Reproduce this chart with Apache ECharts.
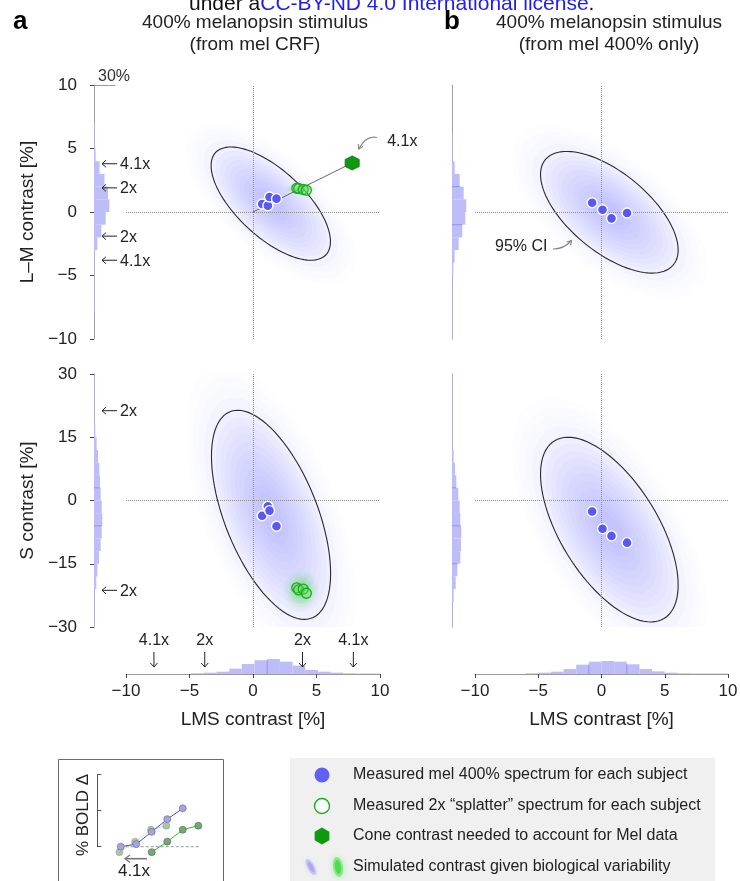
<!DOCTYPE html>
<html><head><meta charset="utf-8">
<script src="https://cdn.jsdelivr.net/npm/echarts@6/dist/echarts.min.js"></script>
<style>html,body{margin:0;padding:0;background:#fff}#c{width:740px;height:881px}</style>
</head><body><div id="c"></div>
<script>
const FONT = '"Liberation Sans", Arial, Helvetica, sans-serif';
const TXT = '#222';

// ---------- data ----------
// Measured mel 400% spectrum for each subject
const measA_lms = [0.72, 1.17, 1.30, 1.85];
const measA_lm  = [0.63, 0.50, 1.18, 1.05];
const measA_s   = [-3.6, -1.4, -2.4, -6.1];
const measB_lms = [-0.74, 0.08, 0.79, 2.02];
const measB_lm  = [0.73, 0.18, -0.50, -0.08];
const measB_s   = [-2.6, -6.7, -8.4, -10.0];
// Measured 2x "splatter" spectrum
const splatA_lms = [3.45, 3.60, 3.95, 4.20];
const splatA_lm  = [1.87, 1.85, 1.77, 1.72];
const splatA_s   = [-20.7, -21.2, -21.0, -22.0];
// Cone contrast needed to account for Mel data (4.1x)
const coneNeeded = [7.81, 3.86];
// 95% CI ellipses: [center LMS, center Y, half-width, half-height, correlation]
const ciA_lm = [1.40, 0.66, 4.70, 4.46, -0.67];
const ciA_s  = [1.42, -3.40, 4.69, 24.8, -0.56];
const ciB_lm = [0.62, -0.02, 5.44, 4.79, -0.62];
const ciB_s  = [0.62, -6.90, 5.44, 21.9, -0.60];
// simulated splatter variability (green)
const splatSimA_lm = [3.8, 1.8, 0.75, 0.25, 0];
const splatSimA_s  = [3.8, -21.3, 0.85, 3.0, 0];
// marginal histograms (bin edges, percent per bin)
const lmHistA_edges = [7, 5, 4, 3, 2, 1, 0, -1, -2, -3, -8];
const lmHistA_pct   = [0.8, 2.4, 8, 15, 20, 22, 16.7, 10.5, 4.8, 0.8];
const sHistA_edges  = [30, 18, 15, 12, 9, 6, 3, 0, -3, -6, -9, -12, -15, -18, -21, -30];
const sHistA_pct    = [0.8, 1.9, 3.8, 5.7, 7.6, 8.6, 9.5, 11, 11.9, 11, 9.5, 7.1, 4.8, 3.3, 0.8];
const lmsHistA_edges = [-4.88, -3.88, -2.88, -1.88, -0.88, 0.12, 1.12, 2.12, 3.12, 4.12, 5.12, 6.12, 7.12, 8.12, 10];
const lmsHistA_pct   = [1, 1.9, 3.3, 7.6, 14.3, 19.6, 21.4, 17.6, 11.9, 5.7, 3.3, 1.9, 1, 0.7];
const lmHistB_edges = [6.2, 4, 3, 2, 1, 0, -1, -2, -3, -4, -5, -10];
const lmHistB_pct   = [0.8, 3.8, 11, 16.7, 20.4, 19, 14.7, 9.5, 3.8, 1.9, 0.8];
const sHistB_edges  = [30, 12, 9, 6, 3, 0, -3, -6, -9, -12, -15, -18, -21, -24, -30];
const sHistB_pct    = [0.8, 2.4, 4.3, 6.2, 9, 11, 11.9, 13.3, 12.9, 11.9, 7.6, 5.3, 2.4, 0.8];
const lmsHistB_edges = [-6, -5, -4, -3, -2, -1, 0, 1, 2, 3, 4, 5, 6, 7, 10];
const lmsHistB_pct   = [1, 1.9, 3.3, 7.1, 13.3, 17.6, 18.6, 17.6, 13.9, 7.1, 3.8, 1.9, 1, 0.6];
// darker reference lines inside histograms
const sHistA_lines   = [3, -6];
const lmsHistA_lines = [1.12];
const lmHistB_lines  = [2, -1];
const sHistB_lines   = [3, -6, -15];
const lmsHistB_lines = [-1, 2];
// splatter multiples marked along the marginal axes
const lmMarks = [3.8, 1.9, -1.9, -3.8];
const lmMarkLabels = ['4.1x', '2x', '2x', '4.1x'];
const sMarks = [21.3, -21.3];
const sMarkLabels = ['2x', '2x'];
const lmsMarks = [-7.8, -3.8, 3.9, 7.9];
const lmsMarkLabels = ['4.1x', '2x', '2x', '4.1x'];
// axis ticks
const lmTicks = [-10, -5, 0, 5, 10];
const sTicks = [-30, -15, 0, 15, 30];
// inset: schematic BOLD response
const insetMelX = [0, 1, 2, 3, 4];
const insetMel  = [0, 0.07, 0.41, 0.76, 1.06];
const insetSplatX = [-0.08, 0.93, 1.95, 2.94];
const insetSplat  = [-0.15, 0.14, 0.47, 0.58];
const insetShiftedX = [2, 3, 4, 5];
// legend
const legendLabels = [
  'Measured mel 400% spectrum for each subject',
  'Measured 2x \u201csplatter\u201d spectrum for each subject',
  'Cone contrast needed to account for Mel data',
  'Simulated contrast given biological variability'
];

// ---------- helpers ----------
const minusFmt = v => String(v).replace('-', '\u2212');
const zip = (a, b) => a.map((v, i) => [v, b[i]]);

function ellipsePts(api, v, s) {
  const [cx, cy, a, b, r] = v; const q = Math.sqrt(1 - r * r); const pts = [];
  for (let i = 0; i <= 96; i++) {
    const t = i / 96 * 2 * Math.PI;
    pts.push(api.coord([cx + s * a * Math.cos(t), cy + s * b * (r * Math.cos(t) + q * Math.sin(t))]));
  }
  return pts;
}
function cloudSeries(gi, params, rgb, scales, alphas, outline) {
  return {
    type: 'custom', xAxisIndex: gi, yAxisIndex: gi, clip: true, silent: true, z: 1,
    data: [params],
    renderItem: (p, api) => {
      const v = [0, 1, 2, 3, 4].map(i => api.value(i));
      const ch = scales.map((s, k) => ({
        type: 'polygon', shape: { points: ellipsePts(api, v, s) },
        style: { fill: 'rgba(' + rgb + ',' + alphas[k] + ')' }
      }));
      if (outline) ch.push({ type: 'polyline', shape: { points: ellipsePts(api, v, 1) },
        style: { stroke: '#2b2b2b', lineWidth: 1.1, fill: null } });
      return { type: 'group', children: ch };
    }
  };
}
const blueScales = [1.42, 1.32, 1.22, 1.12, 1.02, 0.93, 0.85, 0.77, 0.69, 0.61, 0.53, 0.45, 0.37, 0.29, 0.21];
const blueAlphas = [0.01, 0.016, 0.022, 0.028, 0.033, 0.036, 0.037, 0.037, 0.037, 0.036, 0.035, 0.034, 0.032, 0.03, 0.03];
const greenScales = [1.6, 1.35, 1.1, 0.9, 0.7, 0.5, 0.32];
const greenAlphas = [0.06, 0.08, 0.1, 0.11, 0.12, 0.13, 0.14];

function histSeries(gi, edges, pct, vertical) {
  return {
    type: 'custom', xAxisIndex: gi, yAxisIndex: gi, silent: true, z: 3, clip: false,
    data: pct.map((v, i) => [edges[i], edges[i + 1], v]),
    renderItem: (p, api) => {
      const lo = api.value(0), hi = api.value(1), v = api.value(2);
      const a = vertical ? api.coord([0, lo]) : api.coord([lo, 0]);
      const b = vertical ? api.coord([v, hi]) : api.coord([hi, v]);
      return { type: 'rect', shape: { x: Math.min(a[0], b[0]), y: Math.min(a[1], b[1]),
        width: Math.abs(b[0] - a[0]), height: Math.abs(b[1] - a[1]) }, style: { fill: '#bdbdf8' } };
    }
  };
}
function adjMin(edges, pct, m) {
  let bi = 0; edges.forEach((e, i) => { if (Math.abs(e - m) < Math.abs(edges[bi] - m)) bi = i; });
  const c = []; if (bi - 1 >= 0) c.push(pct[bi - 1]); if (bi < pct.length) c.push(pct[bi]);
  return Math.min.apply(null, c);
}
function histLineSeries(gi, lines, edges, pct, vertical) {
  return {
    type: 'custom', xAxisIndex: gi, yAxisIndex: gi, silent: true, z: 4, clip: false,
    data: lines.map(m => [m, adjMin(edges, pct, m)]),
    renderItem: (p, api) => {
      const m = api.value(0), len = api.value(1);
      const a = vertical ? api.coord([0, m]) : api.coord([m, 0]);
      const b = vertical ? api.coord([len, m]) : api.coord([m, len]);
      return { type: 'line', shape: { x1: a[0], y1: a[1], x2: b[0], y2: b[1] },
        style: { stroke: '#9090ee', lineWidth: 1 } };
    }
  };
}
function headPts(tx, ty, dx, dy, len, spread) {
  const L = Math.hypot(dx, dy), bx = -dx / L, by = -dy / L;
  const c = Math.cos(spread), s = Math.sin(spread);
  return [[tx + len * (bx * c - by * s), ty + len * (bx * s + by * c)], [tx, ty],
          [tx + len * (bx * c + by * s), ty + len * (-bx * s + by * c)]];
}
function yArrowSeries(gi, vals, labels) {
  return {
    type: 'custom', xAxisIndex: gi, yAxisIndex: gi, silent: true, z: 6, clip: false,
    data: vals.map((v, i) => [0, v, i]),
    renderItem: (p, api) => {
      const c = api.coord([0, api.value(1)]); const x = c[0], y = c[1];
      return { type: 'group', children: [
        { type: 'line', shape: { x1: x + 23, y1: y, x2: x + 8, y2: y }, style: { stroke: '#222', lineWidth: 1 } },
        { type: 'polyline', shape: { points: [[x + 12, y - 3.5], [x + 8, y], [x + 12, y + 3.5]] }, style: { stroke: '#222', lineWidth: 1, fill: null } },
        { type: 'text', style: { x: x + 26, y: y + 1, text: labels[api.value(2)], font: '16px ' + FONT, fill: TXT, align: 'left', verticalAlign: 'middle' } }
      ] };
    }
  };
}
function xArrowSeries(gi, vals, labels) {
  return {
    type: 'custom', xAxisIndex: gi, yAxisIndex: gi, silent: true, z: 6, clip: false,
    data: vals.map((v, i) => [v, 0, i]),
    renderItem: (p, api) => {
      const c = api.coord([api.value(0), 0]); const x = c[0], y = c[1];
      return { type: 'group', children: [
        { type: 'line', shape: { x1: x, y1: y - 22, x2: x, y2: y - 7 }, style: { stroke: '#222', lineWidth: 1 } },
        { type: 'polyline', shape: { points: [[x - 3.5, y - 11], [x, y - 7], [x + 3.5, y - 11]] }, style: { stroke: '#222', lineWidth: 1, fill: null } },
        { type: 'text', style: { x: x, y: y - 33, text: labels[api.value(2)], font: '16px ' + FONT, fill: TXT, align: 'center', verticalAlign: 'middle' } }
      ] };
    }
  };
}
function zeroLines(gi) {
  return { type: 'scatter', xAxisIndex: gi, yAxisIndex: gi, data: [], silent: true, z: 2,
    markLine: { silent: true, symbol: 'none', label: { show: false },
      lineStyle: { type: 'dotted', color: '#8c8c8c', width: 1 },
      data: [{ xAxis: 0 }, { yAxis: 0 }] } };
}
function measSeries(gi, xs, ys) {
  return { type: 'scatter', xAxisIndex: gi, yAxisIndex: gi, silent: true, z: 8,
    data: zip(xs, ys), symbol: 'circle', symbolSize: 10,
    itemStyle: { color: '#5858f4', borderColor: '#fff', borderWidth: 1.4, opacity: 1 } };
}
function splatSeries(gi, xs, ys) {
  return { type: 'scatter', xAxisIndex: gi, yAxisIndex: gi, silent: true, z: 7,
    data: zip(xs, ys), symbol: 'circle', symbolSize: 10,
    itemStyle: { color: 'rgba(110,230,110,0.35)', borderColor: '#19ad19', borderWidth: 1.3, opacity: 1 } };
}

const HEX = 'path://M0,-10 L8.66,-5 L8.66,5 L0,10 L-8.66,5 L-8.66,-5 Z';
const hiddenVal = (gi, min, max) => ({ type: 'value', gridIndex: gi, min, max, show: false });
const lmsAxis = gi => ({
  type: 'value', gridIndex: gi, min: -10, max: 10, interval: 5, position: 'bottom',
  axisLine: { show: true, onZero: false, lineStyle: { color: '#9a9a9a' } },
  axisTick: { show: true, length: 4, lineStyle: { color: '#444' } },
  axisLabel: { fontSize: 17, fontFamily: FONT, color: TXT, margin: 9, formatter: minusFmt },
  splitLine: { show: false },
  name: 'LMS contrast [%]', nameLocation: 'middle', nameGap: 36,
  nameTextStyle: { fontSize: 19, fontFamily: FONT, color: TXT }
});
const labeledY = (gi, min, max, interval, name) => ({
  type: 'value', gridIndex: gi, min, max, interval, position: 'left',
  axisLine: { show: true, onZero: false, lineStyle: { color: '#a0a0a0' } },
  axisTick: { show: true, length: 4, lineStyle: { color: '#444' } },
  axisLabel: { fontSize: 17, fontFamily: FONT, color: TXT, margin: 17, formatter: minusFmt },
  splitLine: { show: false },
  name, nameLocation: 'middle', nameGap: 57,
  nameTextStyle: { fontSize: 19, fontFamily: FONT, color: TXT }
});
const bareY = (gi, min, max) => ({
  type: 'value', gridIndex: gi, min, max, position: 'left',
  axisLine: { show: true, onZero: false, lineStyle: { color: '#a0a0a0' } },
  axisTick: { show: false }, axisLabel: { show: false }, splitLine: { show: false }
});

const grids = [
  [126, 85, 254, 254], [126, 374, 254, 253], [475, 85, 253, 254], [475, 374, 253, 253],
  [94, 85, 21, 254], [94, 374, 21, 253], [452, 85, 21, 254], [452, 374, 21, 253],
  [126, 653, 254, 21], [475, 653, 253, 21], [97.4, 774.3, 104, 72.4]
].map(g => ({ left: g[0], top: g[1], width: g[2], height: g[3], containLabel: false, outerBoundsMode: 'none' }));

const xAxes = [
  hiddenVal(0, -10, 10), hiddenVal(1, -10, 10), hiddenVal(2, -10, 10), hiddenVal(3, -10, 10),
  { type: 'value', gridIndex: 4, min: 0, max: 30, position: 'top',
    axisLine: { show: true, onZero: false, lineStyle: { color: '#9a9a9a' } },
    axisTick: { show: false }, axisLabel: { show: false }, splitLine: { show: false } },
  hiddenVal(5, 0, 30), hiddenVal(6, 0, 30), hiddenVal(7, 0, 30),
  lmsAxis(8), lmsAxis(9),
  hiddenVal(10, -1.5, 5.2)
];
const yAxes = [
  hiddenVal(0, -10, 10), hiddenVal(1, -30, 30), hiddenVal(2, -10, 10), hiddenVal(3, -30, 30),
  labeledY(4, lmTicks[0], lmTicks[lmTicks.length - 1], 5, 'L\u2013M contrast [%]'),
  labeledY(5, sTicks[0], sTicks[sTicks.length - 1], 15, 'S contrast [%]'),
  bareY(6, -10, 10), bareY(7, -30, 30),
  hiddenVal(8, 0, 30), hiddenVal(9, 0, 30),
  { type: 'value', gridIndex: 10, min: 0, max: 2, interval: 1, position: 'left',
    axisLine: { show: true, onZero: false, lineStyle: { color: '#555' } },
    axisTick: { show: true, inside: true, length: 4, lineStyle: { color: '#555' } },
    axisLabel: { show: false }, splitLine: { show: false } }
];

const series = [
  // clouds + 95% CI ellipses
  cloudSeries(0, ciA_lm, '110,110,245', blueScales, blueAlphas, true),
  cloudSeries(1, ciA_s, '110,110,245', blueScales, blueAlphas, true),
  cloudSeries(2, ciB_lm, '110,110,245', blueScales, blueAlphas, true),
  cloudSeries(3, ciB_s, '110,110,245', blueScales, blueAlphas, true),
  cloudSeries(0, splatSimA_lm, '60,220,60', greenScales, greenAlphas, false),
  cloudSeries(1, splatSimA_s, '60,220,60', greenScales, greenAlphas, false),
  zeroLines(0), zeroLines(1), zeroLines(2), zeroLines(3),
  // line from origin to needed cone contrast
  { type: 'line', xAxisIndex: 0, yAxisIndex: 0, silent: true, z: 5, symbol: 'none',
    data: [[0, 0], coneNeeded], lineStyle: { color: '#6a6a6a', width: 1 } },
  splatSeries(0, splatA_lms, splatA_lm), splatSeries(1, splatA_lms, splatA_s),
  measSeries(0, measA_lms, measA_lm), measSeries(1, measA_lms, measA_s),
  measSeries(2, measB_lms, measB_lm), measSeries(3, measB_lms, measB_s),
  { type: 'scatter', xAxisIndex: 0, yAxisIndex: 0, silent: true, z: 9, data: [coneNeeded],
    symbol: HEX, symbolSize: 14, itemStyle: { color: '#0e990e', borderColor: '#0a6a0a', borderWidth: 0.8, opacity: 1 } },
  { type: 'custom', xAxisIndex: 0, yAxisIndex: 0, silent: true, z: 9, clip: false, data: [coneNeeded],
    renderItem: (p, api) => {
      const c = api.coord([api.value(0), api.value(1)]); const x = c[0], y = c[1];
      const s = [x + 25, y - 25.5], cp = [x + 14, y - 28], e = [x + 6.5, y - 14];
      return { type: 'group', children: [
        { type: 'bezierCurve', shape: { x1: s[0], y1: s[1], cpx1: cp[0], cpy1: cp[1], x2: e[0], y2: e[1] }, style: { stroke: '#8a8a8a', lineWidth: 1.2, fill: null } },
        { type: 'polyline', shape: { points: headPts(e[0], e[1], e[0] - cp[0], e[1] - cp[1], 5, 0.55) }, style: { stroke: '#8a8a8a', lineWidth: 1.2, fill: null } },
        { type: 'text', style: { x: x + 35, y: y - 21, text: '4.1x', font: '16px ' + FONT, fill: TXT, align: 'left', verticalAlign: 'middle' } }
      ] };
    } },
  // marginal histograms
  histSeries(4, lmHistA_edges, lmHistA_pct, true),
  histSeries(5, sHistA_edges, sHistA_pct, true),
  histSeries(6, lmHistB_edges, lmHistB_pct, true),
  histSeries(7, sHistB_edges, sHistB_pct, true),
  histSeries(8, lmsHistA_edges, lmsHistA_pct, false),
  histSeries(9, lmsHistB_edges, lmsHistB_pct, false),
  histLineSeries(5, sHistA_lines, sHistA_edges, sHistA_pct, true),
  histLineSeries(6, lmHistB_lines, lmHistB_edges, lmHistB_pct, true),
  histLineSeries(7, sHistB_lines, sHistB_edges, sHistB_pct, true),
  histLineSeries(8, lmsHistA_lines, lmsHistA_edges, lmsHistA_pct, false),
  histLineSeries(9, lmsHistB_lines, lmsHistB_edges, lmsHistB_pct, false),
  yArrowSeries(4, lmMarks, lmMarkLabels),
  yArrowSeries(5, sMarks, sMarkLabels),
  xArrowSeries(8, lmsMarks, lmsMarkLabels),
  // inset schematic
  { type: 'line', xAxisIndex: 10, yAxisIndex: 10, silent: true, z: 3, clip: false, symbol: 'none',
    data: [[insetMelX[0], 0], [insetShiftedX[insetShiftedX.length - 1] + 0.05, 0]],
    lineStyle: { color: '#aaa', width: 1.2, type: [3, 2] } },
  { type: 'line', xAxisIndex: 10, yAxisIndex: 10, silent: true, z: 4, clip: false,
    data: zip(insetSplatX, insetSplat), symbol: 'circle', symbolSize: 7,
    lineStyle: { color: '#bfe6bf', width: 1 },
    itemStyle: { color: '#9cc49c', borderColor: '#8a8a8a', borderWidth: 0.5, opacity: 0.9 } },
  { type: 'line', xAxisIndex: 10, yAxisIndex: 10, silent: true, z: 5, clip: false,
    data: zip(insetMelX, insetMel), symbol: 'circle', symbolSize: 7,
    lineStyle: { color: '#4a4af2', width: 1 },
    itemStyle: { color: '#a4a4e6', borderColor: '#6a6a6a', borderWidth: 0.6 } },
  { type: 'line', xAxisIndex: 10, yAxisIndex: 10, silent: true, z: 5, clip: false,
    data: zip(insetShiftedX, insetSplat), symbol: 'circle', symbolSize: 7,
    lineStyle: { color: '#22c022', width: 1 },
    itemStyle: { color: '#74a874', borderColor: '#5a5a5a', borderWidth: 0.6 } }
];

function curvedArrow(s, cp, e, color) {
  return [
    { type: 'bezierCurve', shape: { x1: s[0], y1: s[1], cpx1: cp[0], cpy1: cp[1], x2: e[0], y2: e[1] }, style: { stroke: color, lineWidth: 1.2, fill: null } },
    { type: 'polyline', shape: { points: headPts(e[0], e[1], e[0] - cp[0], e[1] - cp[1], 5, 0.55) }, style: { stroke: color, lineWidth: 1.2, fill: null } }
  ];
}
function txt(x, y, text, size, opts) {
  return Object.assign({ type: 'text', style: Object.assign({ x, y, text, font: size + 'px ' + FONT, fill: TXT, align: 'left', verticalAlign: 'middle' }, opts || {}) });
}
const legendRows = [775, 806, 836, 867];
const hexPoly = (cx, cy, r) => [0, 1, 2, 3, 4, 5].map(k => [cx + r * Math.sin(k * Math.PI / 3), cy - r * Math.cos(k * Math.PI / 3)]);

const graphic = [
  { type: 'text', z: 10, style: { x: 189, y: 4, text: '{k|under a}{u|CC-BY-ND 4.0 International license}{k|.}',
    rich: { k: { fill: '#111', fontSize: 21, fontFamily: FONT }, u: { fill: '#1e1ef2', fontSize: 21, fontFamily: FONT } },
    align: 'left', verticalAlign: 'middle' } },
  txt(13, 22, 'a', 26, { font: 'bold 26px ' + FONT, fill: '#000' }),
  txt(444, 22, 'b', 26, { font: 'bold 26px ' + FONT, fill: '#000' }),
  txt(255, 23, '400% melanopsin stimulus', 19, { align: 'center' }),
  txt(255, 45, '(from mel CRF)', 19, { align: 'center' }),
  txt(609, 23, '400% melanopsin stimulus', 19, { align: 'center' }),
  txt(609, 45, '(from mel 400% only)', 19, { align: 'center' }),
  txt(98, 77, '30%', 16, { fill: '#333' }),
  // 95% CI annotation
  txt(495, 247, '95% CI', 16),
  ...curvedArrow([553, 249], [564, 249], [571.5, 240.5], '#8a8a8a'),
  // inset box
  { type: 'rect', z: -5, shape: { x: 58.5, y: 759.5, width: 165, height: 140 }, style: { fill: '#fff', stroke: '#6a6a6a', lineWidth: 1 } },
  { type: 'text', x: 83, y: 815, rotation: Math.PI / 2, style: { x: 0, y: 0, text: '% BOLD \u0394', font: '17px ' + FONT, fill: TXT, align: 'center', verticalAlign: 'middle' } },
  { type: 'line', shape: { x1: 147, y1: 858.7, x2: 125, y2: 858.7 }, style: { stroke: '#777', lineWidth: 1.6 } },
  { type: 'polyline', shape: { points: [[130, 855], [125, 858.7], [130, 862.4]] }, style: { stroke: '#777', lineWidth: 1.2, fill: null } },
  txt(134, 871, '4.1x', 17, { align: 'center' }),
  // legend box
  { type: 'rect', z: -5, shape: { x: 290, y: 758, width: 425, height: 140 }, style: { fill: '#f0f0f0' } },
  { type: 'circle', shape: { cx: 322, cy: legendRows[0], r: 7.5 }, style: { fill: '#6060f5' } },
  { type: 'circle', shape: { cx: 322, cy: legendRows[1], r: 7.5 }, style: { fill: '#fff', stroke: '#1aae1a', lineWidth: 1.4 } },
  { type: 'polygon', shape: { points: hexPoly(322, legendRows[2], 8.5) }, style: { fill: '#0e990e' } },
  { type: 'ellipse', x: 311, y: legendRows[3], rotation: 0.5, shape: { cx: 0, cy: 0, rx: 3.5, ry: 9 }, style: { fill: 'rgba(140,140,245,0.35)', shadowBlur: 4, shadowColor: 'rgba(140,140,245,0.6)' } },
  { type: 'ellipse', x: 311, y: legendRows[3], rotation: 0.5, shape: { cx: 0, cy: 0, rx: 2, ry: 6 }, style: { fill: 'rgba(120,120,245,0.35)' } },
  { type: 'ellipse', x: 338, y: legendRows[3], rotation: 0.15, shape: { cx: 0, cy: 0, rx: 5, ry: 10 }, style: { fill: 'rgba(60,225,60,0.45)', shadowBlur: 6, shadowColor: 'rgba(60,225,60,0.8)' } },
  { type: 'ellipse', x: 338, y: legendRows[3], rotation: 0.15, shape: { cx: 0, cy: 0, rx: 3, ry: 7 }, style: { fill: 'rgba(40,215,40,0.6)' } },
  ...legendLabels.map((t, i) => txt(353, legendRows[i], t, 16))
];

const chart = echarts.init(document.getElementById('c'), null, { renderer: 'canvas', width: 740, height: 881 });
chart.setOption({
  animation: false,
  backgroundColor: '#fff',
  textStyle: { fontFamily: FONT },
  grid: grids, xAxis: xAxes, yAxis: yAxes, series, graphic
});
</script></body></html>
